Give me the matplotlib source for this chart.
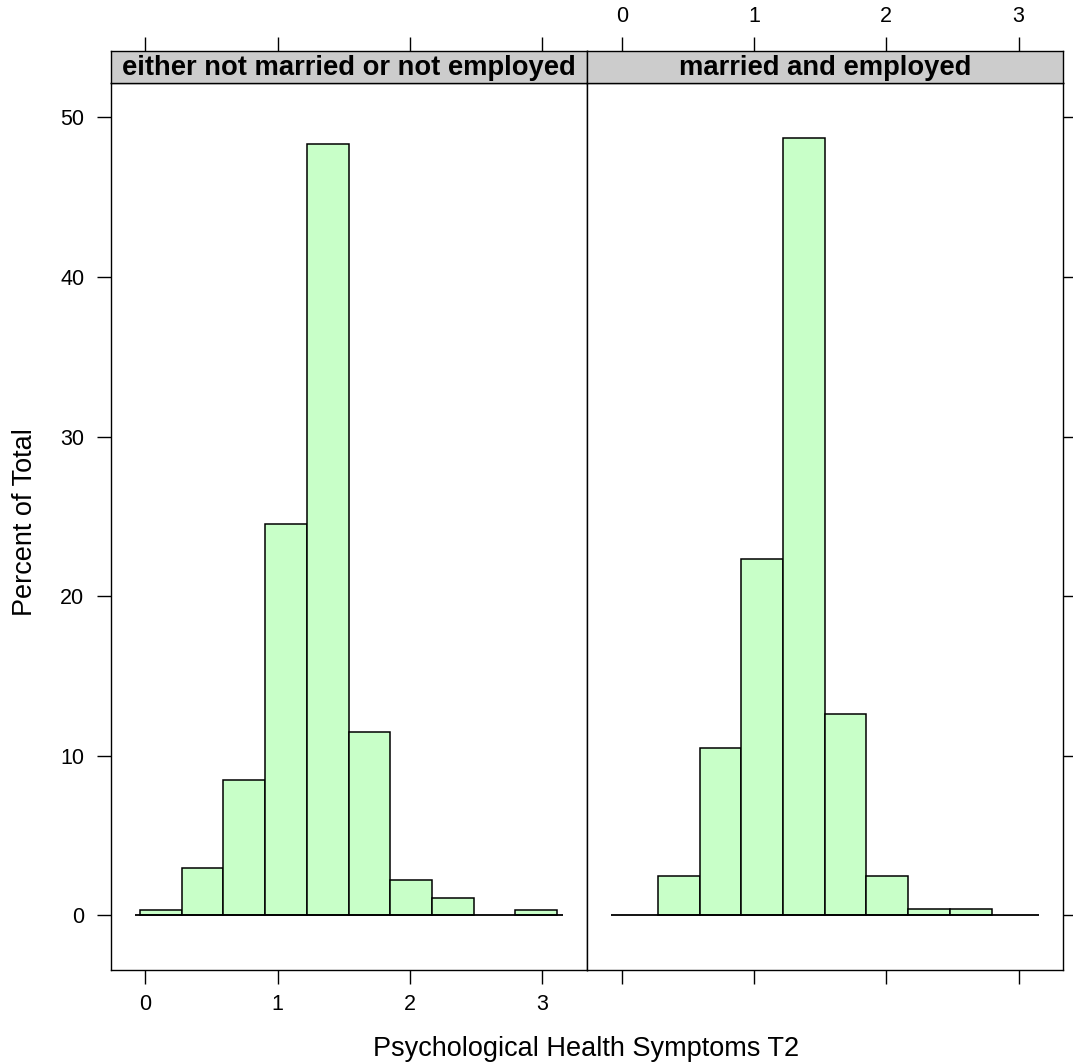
import matplotlib
matplotlib.use('Agg')
import matplotlib.pyplot as plt

plt.rcParams['font.family'] = ['Liberation Sans', 'DejaVu Sans']

# bin edges shared by both panels
edges = [-0.04, 0.275, 0.59, 0.905, 1.22, 1.535, 1.85, 2.165, 2.48, 2.795, 3.11]
panels = ['either not married or not employed', 'married and employed']
pct_left = [0.35, 2.95, 8.5, 24.5, 48.3, 11.5, 2.2, 1.1, 0.0, 0.35]
pct_right = [0.0, 2.5, 10.5, 22.3, 48.7, 12.6, 2.5, 0.4, 0.4, 0.0]
xticks = [0, 1, 2, 3]
yticks = [0, 10, 20, 30, 40, 50]

fill = '#C8FFC8'
strip_col = '#CCCCCC'
xlim = (-0.262, 3.336)
ylim = (-3.42, 52.15)

fig = plt.figure(figsize=(10.73, 10.64), dpi=100)

lefts = [0.1032, 0.5471]
w, bot, h = 0.4437, 0.0883, 0.8337
sh = 0.0304

for i, (name, vals) in enumerate(zip(panels, [pct_left, pct_right])):
    ax = fig.add_axes([lefts[i], bot, w, h])
    sax = fig.add_axes([lefts[i], bot + h, w, sh], sharex=ax)

    widths = [edges[k + 1] - edges[k] for k in range(len(vals))]
    for k, v in enumerate(vals):
        if v > 0:
            ax.bar(edges[k], v, width=widths[k], align='edge', color=fill,
                   edgecolor='black', linewidth=1.1, zorder=2)
    ax.hlines(0, edges[0] - 0.04, edges[-1] + 0.045, color='black',
              linewidth=1.3, zorder=3)
    ax.set_xlim(*xlim)
    ax.set_ylim(*ylim)
    ax.set_xticks(xticks)
    ax.set_yticks(yticks)
    ax.tick_params(direction='out', length=10, width=1, labelsize=15.5)
    ax.tick_params(axis='x', pad=7)
    ax.tick_params(axis='y', pad=9)
    if i == 0:
        ax.tick_params(axis='y', left=True, right=False, labelleft=True)
        ax.tick_params(axis='x', bottom=True, labelbottom=True)
    else:
        ax.tick_params(axis='y', left=False, right=True, labelleft=False,
                       labelright=False)
        ax.tick_params(axis='x', bottom=True, labelbottom=False)
    for s in ax.spines.values():
        s.set_linewidth(1)

    sax.set_facecolor(strip_col)
    sax.set_yticks([])
    sax.tick_params(axis='x', direction='out', length=10, width=1,
                    bottom=False, labelbottom=False, top=True,
                    labeltop=(i == 1), labelsize=15.5, pad=7)
    for s in sax.spines.values():
        s.set_linewidth(1)
    sax.text(0.5, 0.45, name, transform=sax.transAxes, ha='center',
             va='center', fontsize=19.7, fontweight='bold')

fig.text(0.5463, 0.0145, 'Psychological Health Symptoms T2', ha='center',
         va='center', fontsize=19.5)
fig.text(0.023, 0.509, 'Percent of Total', ha='center', va='center',
         rotation=90, fontsize=19.5)

fig.savefig('out.png', dpi=100)
